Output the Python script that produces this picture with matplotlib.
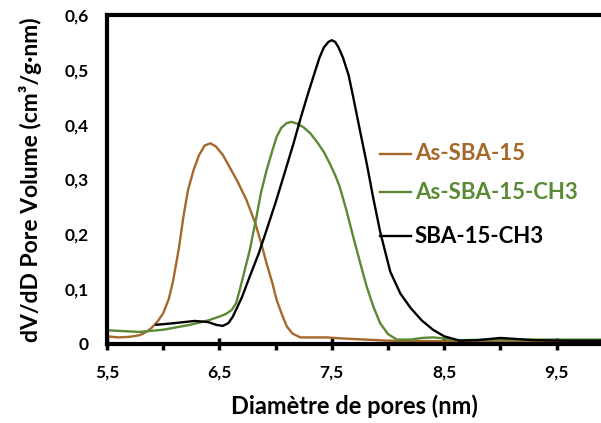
import matplotlib
matplotlib.use('Agg')
import matplotlib.pyplot as plt
from matplotlib.ticker import FixedLocator, FuncFormatter

# pore size distributions
d_as = [5.5, 5.6, 5.7, 5.79, 5.85, 5.9, 5.95, 6.0, 6.05, 6.09, 6.14, 6.18, 6.22, 6.27, 6.32,
        6.37, 6.42, 6.47, 6.53, 6.59, 6.66, 6.74, 6.82, 6.87, 6.92, 6.97, 7.01, 7.06, 7.1,
        7.15, 7.22, 7.3, 7.45, 7.6, 8.0, 8.5, 9.0, 9.5, 10.0]
v_as = [0.014, 0.012, 0.013, 0.016, 0.022, 0.03, 0.041, 0.056, 0.082, 0.117, 0.175, 0.232,
        0.28, 0.317, 0.345, 0.362, 0.366, 0.36, 0.345, 0.323, 0.297, 0.263, 0.22, 0.185,
        0.147, 0.112, 0.08, 0.052, 0.032, 0.019, 0.012, 0.012, 0.012, 0.01, 0.006, 0.005,
        0.004, 0.004, 0.004]

d_asch3 = [5.5, 5.79, 6.0, 6.24, 6.4, 6.5, 6.56, 6.61, 6.65, 6.68, 6.72, 6.77, 6.83, 6.87,
           6.92, 6.97, 7.01, 7.05, 7.1, 7.14, 7.19, 7.25, 7.31, 7.37, 7.43, 7.48, 7.53, 7.57,
           7.63, 7.69, 7.75, 7.81, 7.87, 7.93, 8.0, 8.08, 8.2, 8.3, 8.4, 8.5, 8.61, 9.0, 9.5,
           10.0]
v_asch3 = [0.025, 0.022, 0.026, 0.035, 0.043, 0.05, 0.055, 0.062, 0.075, 0.098, 0.13, 0.171,
           0.232, 0.276, 0.317, 0.352, 0.378, 0.394, 0.403, 0.405, 0.402, 0.395, 0.384, 0.368,
           0.35, 0.33, 0.308, 0.287, 0.244, 0.196, 0.15, 0.105, 0.068, 0.038, 0.018, 0.008,
           0.008, 0.011, 0.012, 0.01, 0.007, 0.008, 0.008, 0.008]

d_ch3 = [5.94, 6.1, 6.28, 6.4, 6.47, 6.53, 6.58, 6.62, 6.7, 6.77, 6.85, 6.92, 7.0, 7.07,
         7.16, 7.22, 7.28, 7.34, 7.39, 7.43, 7.47, 7.5, 7.53, 7.56, 7.6, 7.65, 7.69, 7.75,
         7.81, 7.87, 7.93, 8.02, 8.11, 8.2, 8.3, 8.4, 8.5, 8.64, 8.8, 9.0, 9.29, 9.6, 10.0]
v_ch3 = [0.035, 0.038, 0.042, 0.04, 0.035, 0.033, 0.038, 0.05, 0.085, 0.123, 0.165, 0.208,
         0.258, 0.305, 0.366, 0.41, 0.451, 0.49, 0.522, 0.541, 0.551, 0.554, 0.551, 0.541,
         0.522, 0.49, 0.451, 0.39, 0.33, 0.265, 0.205, 0.132, 0.092, 0.066, 0.043, 0.026,
         0.014, 0.006, 0.007, 0.011, 0.007, 0.006, 0.006]

series = [
    ('As-SBA-15', d_as, v_as, '#A5682A'),
    ('As-SBA-15-CH3', d_asch3, v_asch3, '#5A8A34'),
    ('SBA-15-CH3', d_ch3, v_ch3, '#000000'),
]
label_y = [0.579, 0.461, 0.327]  # axes fraction for the labels

plt.rcParams['font.family'] = ['Lato', 'DejaVu Sans']
plt.rcParams['font.weight'] = 'bold'

fig = plt.figure(figsize=(6.01, 4.23), dpi=100)
ax = fig.add_axes([0.178, 0.1868, 0.822, 0.7777])

for (name, d, v, c), ly in zip(series, label_y):
    ax.plot(d, v, color=c, lw=1.7)
    ax.plot([0.552, 0.616], [ly, ly], color=c, lw=1.7, transform=ax.transAxes,
            clip_on=False)
    ax.text(0.623, ly, name, color=c, fontsize=16, fontweight='bold',
            va='center', ha='left', transform=ax.transAxes)

ax.set_xlim(5.5, 9.895)
ax.set_ylim(0, 0.6)

ax.xaxis.set_major_locator(FixedLocator([5.5, 6.5, 7.5, 8.5, 9.5]))
ax.xaxis.set_minor_locator(FixedLocator([6.0, 7.0, 8.0, 9.0]))
ax.yaxis.set_major_locator(FixedLocator([0, 0.1, 0.2, 0.3, 0.4, 0.5, 0.6]))
comma = FuncFormatter(lambda x, p: ('%g' % round(x, 2)).replace('.', ','))
ax.xaxis.set_major_formatter(comma)
ax.yaxis.set_major_formatter(comma)

ax.tick_params(axis='x', which='major', direction='inout', length=9, width=2.5,
               labelsize=12.5, pad=10)
ax.tick_params(axis='x', which='minor', direction='out', length=4, width=2.5)
ax.tick_params(axis='y', length=0, labelsize=12.5, pad=13)
for lab in ax.get_xticklabels() + ax.get_yticklabels():
    lab.set_fontweight('bold')

for side in ['left', 'bottom', 'top']:
    ax.spines[side].set_linewidth(3)
ax.spines['right'].set_visible(False)

ax.set_xlabel('Diamètre de pores (nm)', fontsize=17, fontweight='bold', labelpad=10)
ax.set_ylabel('dV/dD Pore Volume (cm³/g·nm)', fontsize=16.5, fontweight='bold', labelpad=16)

fig.savefig('out.png', dpi=100)
